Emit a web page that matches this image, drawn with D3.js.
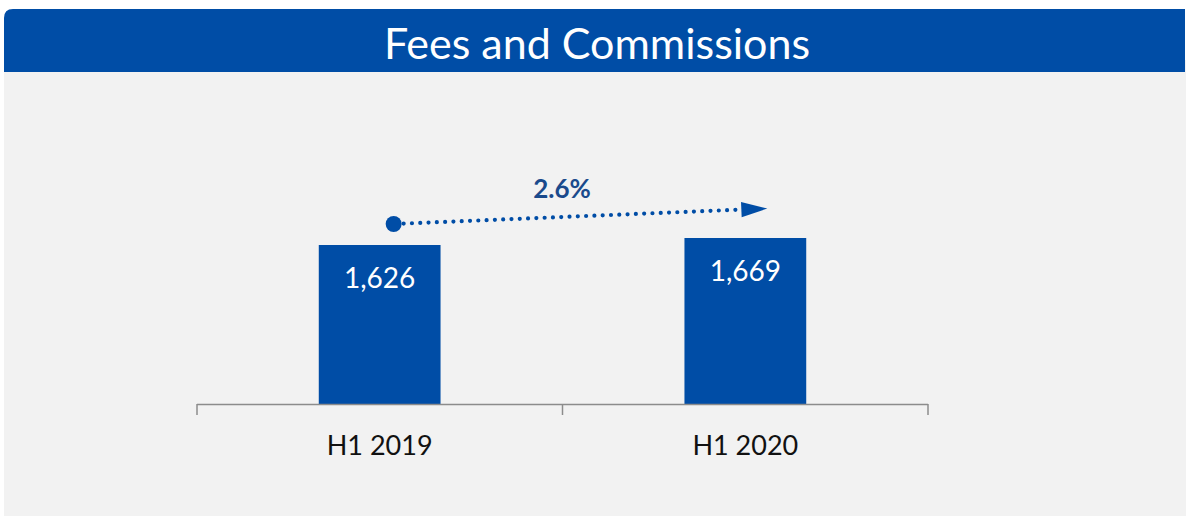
<!DOCTYPE html>
<html>
<head>
<meta charset="utf-8">
<script src="https://cdn.jsdelivr.net/npm/d3@7"></script>
<style>
  html, body { margin: 0; padding: 0; background: #ffffff; }
  svg { display: block; }
</style>
</head>
<body>
<svg id="chart" width="1186" height="516"></svg>
<script>
const title = "Fees and Commissions";
const categories = ["H1 2019", "H1 2020"];
const values = [1626, 1669];
const valueLabels = ["1,626", "1,669"];
const growthLabel = "2.6%";

const W = 1186, H = 516;
const blue = "#004DA6";
const svg = d3.select("#chart");
const font = "Lato, 'Open Sans', sans-serif";

// background panel
svg.append("rect").attr("x", 4).attr("y", 60).attr("width", W - 4).attr("height", H - 60).attr("fill", "#F2F2F2");

// title bar with rounded top-left corner
const tx0 = 4, ty0 = 9, tx1 = 1185, ty1 = 72, r = 9;
svg.append("path")
  .attr("d", `M${tx0},${ty1} L${tx0},${ty0 + r} Q${tx0},${ty0} ${tx0 + r},${ty0} L${tx1},${ty0} L${tx1},${ty1} Z`)
  .attr("fill", blue);
svg.append("text")
  .attr("x", 597).attr("y", 59)
  .attr("text-anchor", "middle")
  .attr("fill", "#ffffff")
  .style("font-family", font)
  .style("font-size", "43px")
  .text(title);

// scales
const x = d3.scaleBand().domain(categories).range([197, 928]).paddingInner(0.667).paddingOuter(0.333);
const y = d3.scaleLinear().domain([643, 1669]).range([405, 238]);

// bars
svg.append("g").selectAll("rect").data(values).join("rect")
  .attr("x", (d, i) => x(categories[i]))
  .attr("y", d => y(d))
  .attr("width", x.bandwidth())
  .attr("height", d => y(643) - y(d))
  .attr("fill", blue);

// value labels
svg.append("g").selectAll("text").data(values).join("text")
  .attr("x", (d, i) => x(categories[i]) + x.bandwidth() / 2)
  .attr("y", d => y(d) + 43)
  .attr("text-anchor", "middle")
  .attr("fill", "#ffffff")
  .style("font-family", font)
  .style("font-size", "28px")
  .text((d, i) => valueLabels[i]);

// axis
const axisG = svg.append("g");
axisG.append("line").attr("x1", 197).attr("x2", 928).attr("y1", 404.5).attr("y2", 404.5)
  .attr("stroke", "#8c8c8c").attr("stroke-width", 1.5);
const tickXs = [197, (197 + 928) / 2, 928];
axisG.selectAll("line.tick").data(tickXs).join("line").attr("class", "tick")
  .attr("x1", d => d).attr("x2", d => d).attr("y1", 404).attr("y2", 415)
  .attr("stroke", "#8c8c8c").attr("stroke-width", 1.5);
axisG.selectAll("text").data(categories).join("text")
  .attr("x", d => x(d) + x.bandwidth() / 2)
  .attr("y", 455)
  .attr("text-anchor", "middle")
  .attr("fill", "#111111")
  .style("font-family", font)
  .style("font-size", "27px")
  .text(d => d);

// growth arrow
const c0 = x(categories[0]) + x.bandwidth() / 2;
const c1 = x(categories[1]) + x.bandwidth() / 2;
const sx = c0 + 14, sy = y(values[0]) - 21;
const ex = c1 + 22, ey = y(values[1]) - 29.5;
const hx = ex - 26;
const hy = sy + (ey - sy) * (hx - sx) / (ex - sx);
svg.append("line")
  .attr("x1", sx + 10).attr("y1", sy - 0.4).attr("x2", hx).attr("y2", hy)
  .attr("stroke", blue).attr("stroke-width", 4.2)
  .attr("stroke-linecap", "round").attr("stroke-dasharray", "0 8.3");
svg.append("circle").attr("cx", sx).attr("cy", sy).attr("r", 8).attr("fill", blue);
const ang = Math.atan2(ey - sy, ex - sx);
const nx = -Math.sin(ang), ny = Math.cos(ang);
svg.append("path")
  .attr("d", `M${ex},${ey} L${hx + nx * 7.7},${hy + ny * 7.7} L${hx - nx * 7.7},${hy - ny * 7.7} Z`)
  .attr("fill", blue);
svg.append("text")
  .attr("x", 562).attr("y", 198)
  .attr("text-anchor", "middle")
  .attr("fill", "#1A4A8C")
  .style("font-family", font)
  .style("font-weight", "bold")
  .style("font-size", "26px")
  .text(growthLabel);
</script>
</body>
</html>
